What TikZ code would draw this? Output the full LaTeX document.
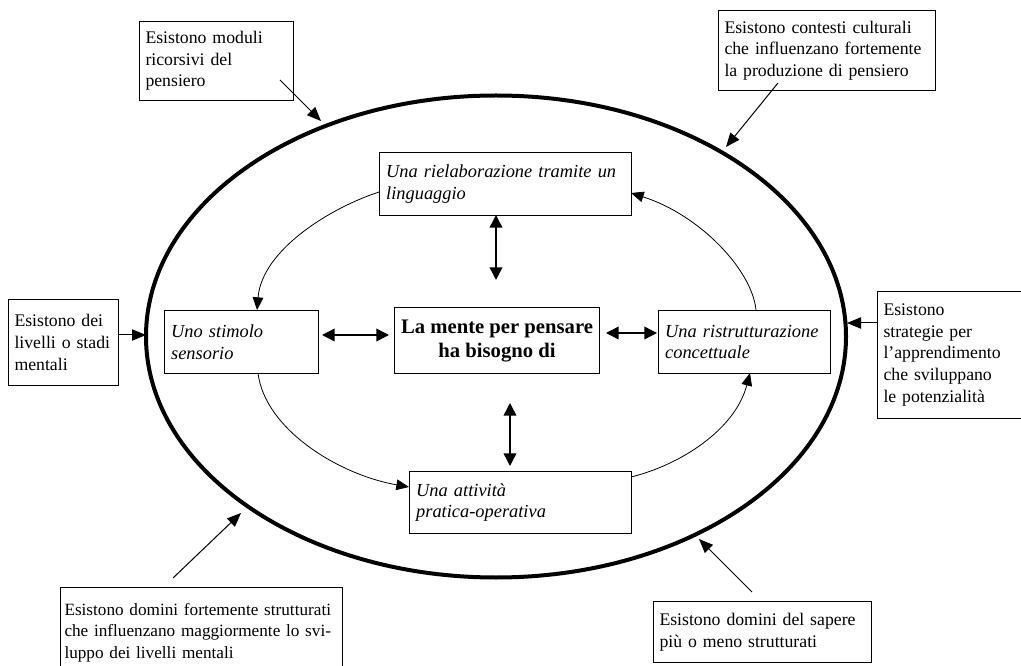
\documentclass[tikz,border=0pt]{standalone}
\usepackage{fontspec}
\setmainfont{Liberation Serif}
\usetikzlibrary{arrows.meta}
\begin{document}
\begin{tikzpicture}[x=0.75pt,y=-0.75pt,
  outerbox/.style={draw, line width=0.75pt, anchor=north west, align=left, inner xsep=4.5pt, inner ysep=0pt, font=\fontsize{13.3}{16.3}\selectfont},
  innerbox/.style={draw, line width=0.75pt, anchor=north west, align=left, inner xsep=5pt, inner ysep=0pt, font=\fontsize{13.8}{16.3}\selectfont\itshape},
  arr/.style={line width=0.75pt, -{Triangle[length=10.5pt,width=8.5pt]}},
  darr/.style={line width=1.1pt, {Triangle[length=9.5pt,width=9.5pt]}-{Triangle[length=9.5pt,width=9.5pt]}},
  carr/.style={line width=0.6pt, -{Triangle[length=9.5pt,width=8pt]}}
]
\useasboundingbox (0,0) rectangle (1021,666);

% big ellipse
\draw[line width=3pt] (496,336.5) ellipse [x radius=262.5pt, y radius=180.75pt];

% outer boxes
\node[outerbox, text width=106.5pt, minimum height=59.25pt] (moduli) at (139,21)
  {Esistono moduli\\ricorsivi del\\pensiero};
\node[outerbox, text width=153.75pt, minimum height=60pt] (contesti) at (718,10)
  {Esistono contesti culturali\\che influenzano fortemente\\la produzione di pensiero};
\node[outerbox, text width=73.5pt, minimum height=64.5pt] (livelli) at (8,299)
  {Esistono dei\\livelli o stadi\\mentali};
\node[outerbox, text width=99pt, minimum height=95.25pt] (strategie) at (877,291)
  {Esistono\\strategie per\\l’apprendimento\\che sviluppano\\le potenzialità};
\node[outerbox, inner xsep=3pt, text width=205.5pt, minimum height=67.5pt,
  font=\fontsize{12.9}{16.1}\selectfont] (dominiF) at (60,587)
  {\mbox{Esistono domini fortemente strutturati}\\\mbox{che influenzano maggiormente lo svi-}\\\mbox{luppo dei livelli mentali}};
\node[outerbox, text width=154.5pt, minimum height=45.75pt] (sapere) at (653,601)
  {Esistono domini del sapere\\più o meno strutturati};

% inner boxes
\node[innerbox, text width=179pt, minimum height=47.25pt] (riel) at (379,152)
  {Una rielaborazione tramite un\\linguaggio};
\node[innerbox, text width=105.5pt, minimum height=47.25pt] (stim) at (164,310)
  {Uno stimolo\\sensorio};
\node[innerbox, text width=119pt, minimum height=47.25pt] (ristr) at (658,310)
  {Una ristrutturazione\\concettuale};
\node[innerbox, text width=156.5pt, minimum height=46.5pt] (att) at (409,471)
  {Una attività\\pratica-operativa};
\node[draw, line width=0.8pt, anchor=north west, align=center, inner sep=0pt,
  minimum width=153.75pt, minimum height=49.5pt,
  font=\fontsize{15.5}{18}\selectfont\bfseries] (mente) at (394,307)
  {La mente per pensare\\ha bisogno di};

% coordinates for outer arrows
\coordinate (m0) at (280,80);   \coordinate (m1) at (321,121);
\coordinate (c0) at (778,83);   \coordinate (c1) at (726,147);
\coordinate (l0) at (118,335);  \coordinate (l1) at (146,335);
\coordinate (s0) at (877,323);  \coordinate (s1) at (847,323);
\coordinate (f0) at (173,578);  \coordinate (f1) at (241,513);
\coordinate (p0) at (752,592);  \coordinate (p1) at (699,539);

\draw[arr] (m0) -- (m1);
\draw[arr] (c0) -- (c1);
\draw[arr] (l0) -- (l1);
\draw[arr] (s0) -- (s1);
\draw[arr] (f0) -- (f1);
\draw[arr] (p0) -- (p1);

% double arrows
\coordinate (t0) at (496,215);  \coordinate (t1) at (496,280);
\coordinate (h0) at (322,335);  \coordinate (h1) at (389,335);
\coordinate (r0) at (606,333);  \coordinate (r1) at (657,333);
\coordinate (b0) at (510,403);  \coordinate (b1) at (510,466);
\draw[darr] (t0) -- (t1);
\draw[darr] (h0) -- (h1);
\draw[darr] (r0) -- (r1);
\draw[darr] (b0) -- (b1);

% curved arrows
\coordinate (k1a) at (379,192); \coordinate (k1b) at (257,310);
\coordinate (k2a) at (756,310); \coordinate (k2b) at (631,193);
\coordinate (k3a) at (258,373); \coordinate (k3b) at (409,487);
\coordinate (k4a) at (631,477); \coordinate (k4b) at (750,373);
\draw[carr] (k1a) .. controls (330,208) and (262,250) .. (k1b);
\draw[carr] (k2a) .. controls (752,270) and (700,215) .. (k2b);
\draw[carr] (k3a) .. controls (265,430) and (340,475) .. (k3b);
\draw[carr] (k4a) .. controls (680,465) and (735,430) .. (k4b);
\end{tikzpicture}
\end{document}
